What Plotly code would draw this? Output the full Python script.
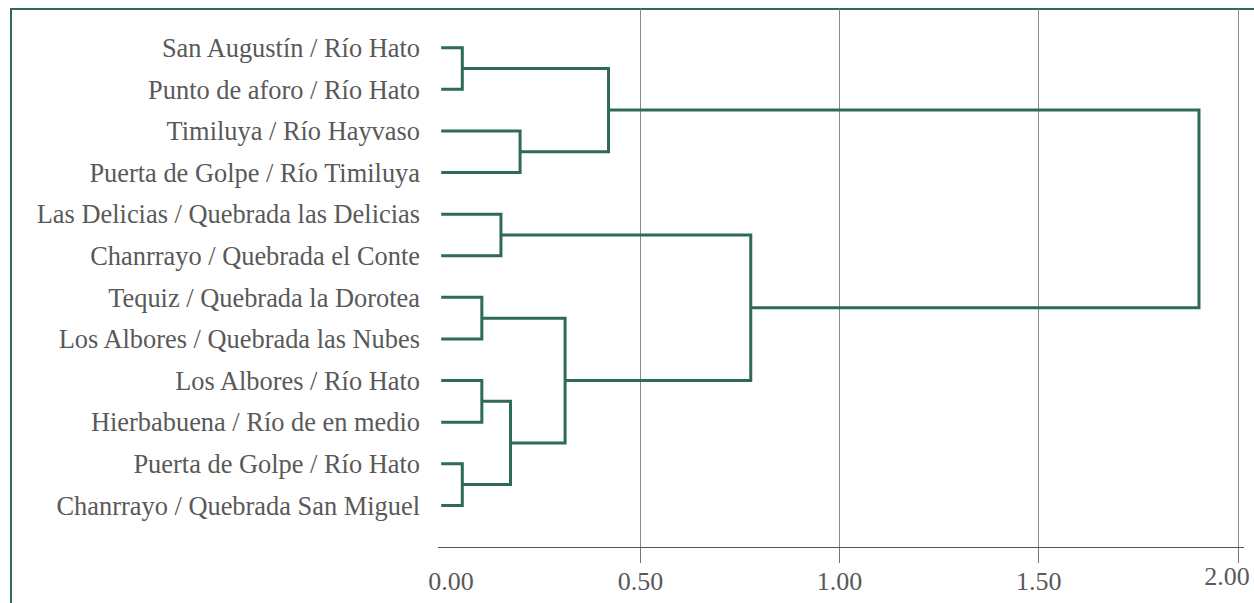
import plotly.graph_objects as go

labels = [
    "San Augustín / Río Hato",
    "Punto de aforo / Río Hato",
    "Timiluya / Río Hayvaso",
    "Puerta de Golpe / Río Timiluya",
    "Las Delicias / Quebrada las Delicias",
    "Chanrrayo / Quebrada el Conte",
    "Tequiz / Quebrada la Dorotea",
    "Los Albores / Quebrada las Nubes",
    "Los Albores / Río Hato",
    "Hierbabuena / Río de en medio",
    "Puerta de Golpe / Río Hato",
    "Chanrrayo / Quebrada San Miguel",
]
# merges: node ids 0..11 are leaves, new nodes start at 12
merge_left = [0, 2, 12, 4, 6, 8, 10, 17, 16, 15, 14]
merge_right = [1, 3, 13, 5, 7, 9, 11, 18, 19, 20, 21]
merge_height = [0.053, 0.198, 0.42, 0.15, 0.102, 0.102, 0.053, 0.174, 0.311, 0.777, 1.902]
x_ticks = [0, 0.5, 1.0, 1.5, 2.0]
x_tick_text = ["\u00a0\u00a0\u00a00.00", "0.50", "1.00", "1.50", "2.00"]

n = len(labels)
node_y = {i: float(n - i) for i in range(n)}
node_h = {i: 0.0 for i in range(n)}
xs, ys = [], []
for k, (a, b, h) in enumerate(zip(merge_left, merge_right, merge_height)):
    nid = n + k
    xs += [node_h[a], h, h, node_h[b], None]
    ys += [node_y[a], node_y[a], node_y[b], node_y[b], None]
    node_y[nid] = (node_y[a] + node_y[b]) / 2
    node_h[nid] = h

green = "#2e6b52"
font_fam = "Liberation Serif, Times New Roman, serif"
label_col = "#595959"

fig = go.Figure()
fig.add_trace(go.Scatter(x=xs, y=ys, mode="lines",
                         line=dict(color=green, width=3),
                         hoverinfo="skip", showlegend=False))
# invisible traces for the grid axis and last-label axis
fig.add_trace(go.Scatter(x=[0.5, 2.0], y=[1, 1], mode="markers",
                         marker=dict(opacity=0), xaxis="x2",
                         hoverinfo="skip", showlegend=False))
fig.add_trace(go.Scatter(x=[2.0], y=[1], mode="markers",
                         marker=dict(opacity=0), xaxis="x3",
                         hoverinfo="skip", showlegend=False))

xr = [-0.008, 2.015]
tf = dict(size=26, color=label_col)
fig.update_layout(
    width=1254, height=603,
    margin=dict(l=438, r=10, t=9, b=56, autoexpand=False),
    paper_bgcolor="white", plot_bgcolor="white",
    font=dict(family=font_fam, size=26, color=label_col),
    xaxis=dict(range=xr, tickvals=x_ticks[:-1], ticktext=x_tick_text[:-1],
               showgrid=False, zeroline=False, ticks="", automargin=False,
               showline=True, linecolor="#555555", linewidth=1,
               ticklabelstandoff=11, tickfont=tf),
    xaxis2=dict(range=xr, overlaying="x", side="bottom", automargin=False,
                tickvals=x_ticks[1:], showticklabels=False,
                showgrid=True, gridcolor="#8a8a8a", gridwidth=1,
                ticks="outside", ticklen=15, tickcolor="#777777", tickwidth=1,
                zeroline=False, showline=False),
    xaxis3=dict(range=xr, overlaying="x", side="bottom", automargin=False,
                tickvals=x_ticks[-1:], ticktext=x_tick_text[-1:],
                showgrid=False, zeroline=False, showline=False, ticks="",
                ticklabelstandoff=11, ticklabelshift=-11,
                ticklabeloverflow="allow", tickfont=tf),
    yaxis=dict(range=[0, 12.93], tickvals=[n - i for i in range(n)],
               ticktext=labels, showgrid=False, zeroline=False, automargin=False,
               showline=False, ticks="", ticklabelstandoff=17,
               tickfont=dict(size=26.4, color=label_col)),
    shapes=[dict(type="rect", xref="paper", yref="paper",
                 x0=-427 / 806, x1=1.2, y0=-0.3, y1=1.0,
                 line=dict(color=green, width=2), layer="below")],
)
fig.write_html("out.html", config={"displayModeBar": False},
               post_script="document.body.style.margin='0';document.body.style.overflow='hidden';")
